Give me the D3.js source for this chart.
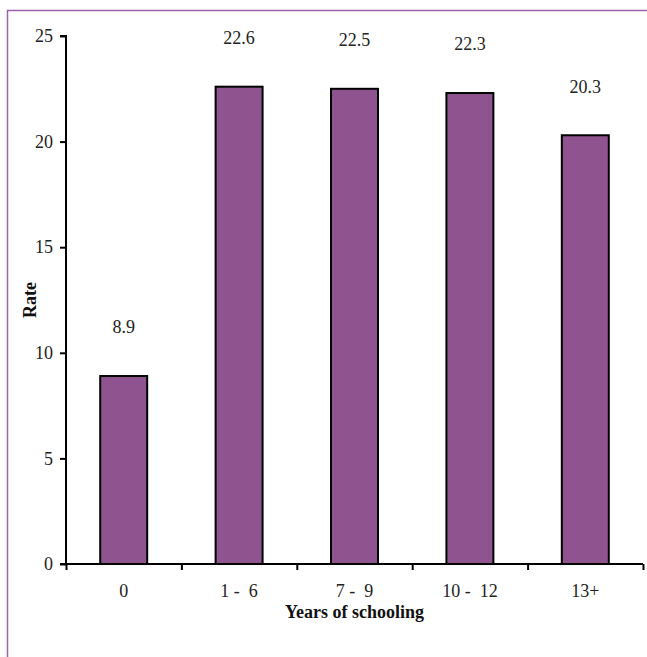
<!DOCTYPE html>
<html>
<head>
<meta charset="utf-8">
<script src="https://cdn.jsdelivr.net/npm/d3@7/dist/d3.min.js"></script>
<style>
  html, body { margin: 0; padding: 0; background: #fff; }
  svg { display: block; }
  svg text { font-family: "Liberation Serif", "Times New Roman", serif !important; fill: #222; }
</style>
</head>
<body>
<div id="chart"></div>
<script>
const categories = ["0", "1 -  6", "7 -  9", "10 -  12", "13+"];
const rates = [8.9, 22.6, 22.5, 22.3, 20.3];
const yTicks = [0, 5, 10, 15, 20, 25];
const xTitle = "Years of schooling";
const yTitle = "Rate";

const W = 647, H = 657;
const mLeft = 66, mRight = 643, mTop = 36, mBottom = 564;
const FS = 18;

const svg = d3.select("#chart").append("svg").attr("width", W).attr("height", H);

// outer frame
svg.append("rect")
  .attr("x", 7.5).attr("y", 10.5).attr("width", 800).attr("height", 800)
  .attr("fill", "none").attr("stroke", "#9c62a8").attr("stroke-width", 1.5);

const x = d3.scaleBand().domain(categories).range([mLeft, mRight])
  .paddingInner(0.593).paddingOuter(0.2965);
const xEdges = d3.scaleLinear().domain([0, categories.length]).range([mLeft, mRight]);
const y = d3.scaleLinear().domain([0, 25]).range([mBottom, mTop]);

// bars
svg.append("g").selectAll("rect").data(rates).join("rect")
  .attr("x", (d, i) => x(categories[i]))
  .attr("y", d => y(d))
  .attr("width", x.bandwidth())
  .attr("height", d => y(0) - y(d))
  .attr("fill", "#8f5490")
  .attr("stroke", "#000")
  .attr("stroke-width", 2);

// value labels
svg.append("g").selectAll("text").data(rates).join("text")
  .attr("x", (d, i) => x(categories[i]) + x.bandwidth() / 2)
  .attr("y", d => y(d) - 49)
  .attr("dy", "0.35em")
  .attr("text-anchor", "middle")
  .style("font-size", FS + "px")
  .text(d => d.toFixed(1));

// y axis
const yAxis = svg.append("g").attr("transform", `translate(${mLeft},0)`)
  .call(d3.axisLeft(y).tickValues(yTicks).tickSize(6).tickPadding(7));
yAxis.attr("font-family", null).attr("font-size", null);
yAxis.select(".domain").attr("d", `M-6,${mTop}H0V${mBottom}H-6`).attr("stroke-width", 2);
yAxis.selectAll(".tick line").attr("stroke-width", 2);
yAxis.selectAll("text").style("font-size", FS + "px");

// x axis (ticks at band edges)
const xAxis = svg.append("g").attr("transform", `translate(0,${mBottom})`)
  .call(d3.axisBottom(xEdges).ticks(categories.length).tickSize(6).tickFormat(""));
xAxis.select(".domain").attr("d", `M${mLeft},0H${mRight}`).attr("stroke-width", 2);
xAxis.selectAll(".tick line").attr("stroke-width", 2);

// category labels
const xLab = svg.append("g").attr("transform", `translate(0,${mBottom})`)
  .call(d3.axisBottom(x).tickSize(0).tickPadding(20));
xLab.attr("font-family", null).attr("font-size", null);
xLab.select(".domain").remove();
xLab.selectAll("text").style("font-size", FS + "px").style("white-space", "pre");

// titles
svg.append("text")
  .attr("x", (mLeft + mRight) / 2).attr("y", 612).attr("dy", "0.35em")
  .attr("text-anchor", "middle").style("font-size", FS + "px").attr("font-weight", "bold")
  .style("fill", "#111")
  .text(xTitle);

svg.append("text")
  .attr("transform", `translate(30,${(mTop + mBottom) / 2}) rotate(-90)`)
  .attr("dy", "0.35em")
  .attr("text-anchor", "middle").style("font-size", FS + "px").attr("font-weight", "bold")
  .style("fill", "#111")
  .text(yTitle);
</script>
</body>
</html>
